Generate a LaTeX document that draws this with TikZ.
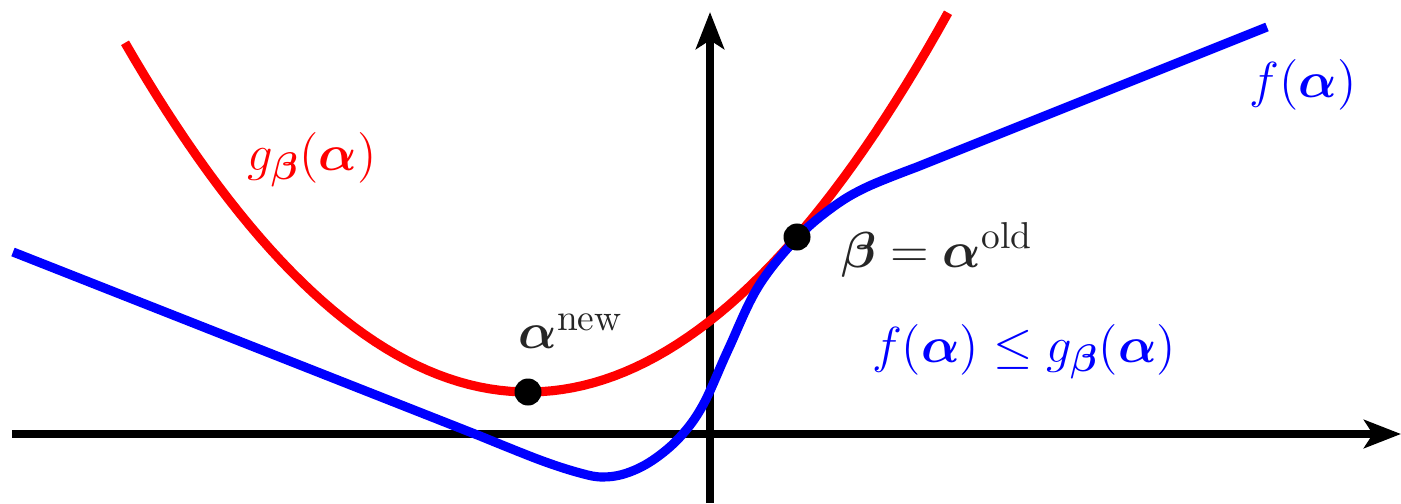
\documentclass[tikz,border=0pt]{standalone}
\usepackage{amsmath,bm}
\usetikzlibrary{arrows.meta}
\begin{document}
\begin{tikzpicture}[x=0.01cm,y=-0.01cm,
  axis/.style={line width=2.3pt,-{Stealth[length=10.5pt,width=8pt,inset=2.5pt]}},
  curve/.style={line width=2.6pt,line join=round},
  dot/.style={circle,fill=black,inner sep=0pt,minimum size=0.27cm},
  lbl/.style={font=\fontsize{15.2}{18}\selectfont,inner sep=0pt}]
\useasboundingbox (0,0) rectangle (1401,503);
% axes
\coordinate (xs) at (12,434);
\coordinate (xe) at (1401,434);
\coordinate (ys) at (710,503);
\coordinate (ye) at (710,12);
\draw[axis] (xs) -- (xe);
\draw[axis] (ys) -- (ye);
% red parabola
\draw[curve,red] plot[domain=125:948,samples=80] (\x,{392-21.5*((\x-528)/100)^2});
% blue curve
\draw[curve,blue] (13,252) -- (480,436)
  plot[smooth,tension=0.6] coordinates {(480,436) (540,460) (580,473) (603,477) (627,473) (653,460) (680,437) (703,405) (728,350) (758,287) (797,238) (833,207) (867,187) (917,167)}
  -- (1267,27);
% points
\node[dot] (anew) at (528,392) {};
\node[dot] (beta) at (797,237) {};
% labels
\node[lbl,red] (lg) at (312,160) {$g_{\bm\beta}(\bm\alpha)$};
\node[lbl,blue] (lf) at (1303,85) {$f(\bm\alpha)$};
\node[lbl,black!85] (lb) at (937,250) {$\bm\beta=\bm\alpha^{\text{old}}$};
\node[lbl,black!85] (ln) at (571,331) {$\bm\alpha^{\text{new}}$};
\node[lbl,blue] (lineq) at (1024,352) {$f(\bm\alpha)\leq g_{\bm\beta}(\bm\alpha)$};
\end{tikzpicture}
\end{document}
